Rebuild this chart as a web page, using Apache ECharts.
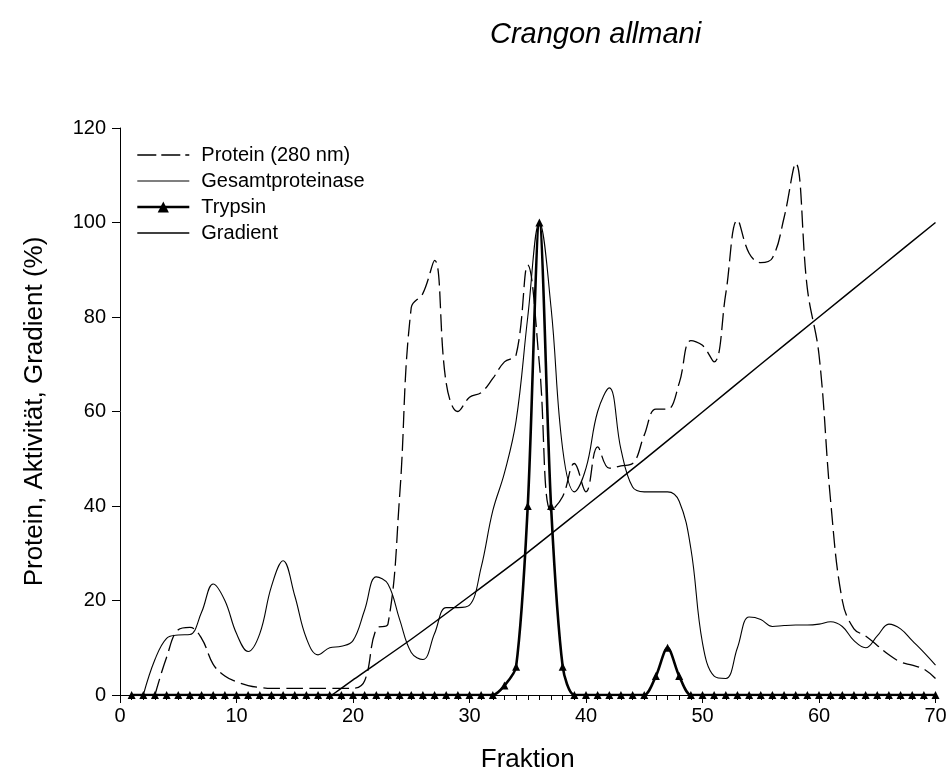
<!DOCTYPE html>
<html><head><meta charset="utf-8">
<script src="https://cdn.jsdelivr.net/npm/echarts@6/dist/echarts.min.js"></script>
<style>html,body{margin:0;padding:0;background:#fff}#c{width:950px;height:780px}</style>
</head><body><div id="c"></div>
<script>
// ---- data ----
const chartTitle = 'Crangon allmani';
const xAxisName = 'Fraktion';
const yAxisName = 'Protein, Aktivität, Gradient (%)';
const seriesNames = ['Protein (280 nm)', 'Gesamtproteinase', 'Trypsin', 'Gradient'];

const proteinX = [3,4,5,6,7,8,9,10,11,12,13,14,15,16,17,18,19,20,21,22,23,24,25,26,27,28,29,30,31,32,33,34,35,36,37,38,39,40,41,42,43,44,45,46,47,48,49,50,51,52,53,54,55,56,57,58,59,60,61,62,63,64,65,66,67,68,69,70];
const proteinY = [0,8,13.8,14.3,12,6.5,4,2.8,2,1.6,1.4,1.4,1.4,1.4,1.4,1.4,1.4,1.4,3,14,15,42,82,85,92,66,60,63,64,67,70.5,72,91,70,39,42,49,43,52.5,48,48.5,49,55,60.5,60.5,66,75,74,70.5,85,100.5,93.5,91.5,92.5,101,112.5,86,72,41,20,14,12.5,10.5,8.5,7,6.3,5.5,3.5];

const gesamtX = [2,3,4,5,6,7,8,9,10,11,12,13,14,15,16,17,18,19,20,21,22,23,24,25,26,27,28,29,30,31,32,33,34,35,36,37,38,39,40,41,42,43,44,45,46,47,48,49,50,51,52,53,54,55,56,57,58,59,60,61,62,63,64,65,66,67,68,69,70];
const gesamtY = [0,7.5,12,12.7,12.8,17.5,23.5,20,13,9.2,13,23,28.4,21,12,8.5,10,10.3,11.5,18,25,23.5,16,9,7.5,13,18.5,18.5,19,27,39,47,58,80,100,82,52,43,48,60,65,52,44,43,43,43,41,31,11,4,3.5,10,16.5,16,14.5,14.7,14.8,14.8,15,15.5,14.5,11.5,10,12.5,15,14,11.5,9,6.3];

const trypsinX = [1,2,3,4,5,6,7,8,9,10,11,12,13,14,15,16,17,18,19,20,21,22,23,24,25,26,27,28,29,30,31,32,33,34,35,36,37,38,39,40,41,42,43,44,45,46,47,48,49,50,51,52,53,54,55,56,57,58,59,60,61,62,63,64,65,66,67,68,69,70];
const trypsinY = [0,0,0,0,0,0,0,0,0,0,0,0,0,0,0,0,0,0,0,0,0,0,0,0,0,0,0,0,0,0,0,0,2,6,40,100,40,6,0,0,0,0,0,0,0,4,10,4,0,0,0,0,0,0,0,0,0,0,0,0,0,0,0,0,0,0,0,0,0,0];

const gradientX = [18.2,20,25,30,35,40,45,50,55,60,65,70];
const gradientY = [0,3.2,11.8,20.9,30.2,40,49.8,59.9,70,80,90,100];

const xMin = 0, xMax = 70, xStep = 10;
const yMin = 0, yMax = 120, yStep = 20;

const pairs = (xs, ys) => xs.map((x, i) => [x, ys[i]]);
const FONT = 'Liberation Sans, Arial, sans-serif';

const chart = echarts.init(document.getElementById('c'), null, {renderer: 'canvas'});
chart.setOption({
  animation: false,
  backgroundColor: '#ffffff',
  title: {
    text: chartTitle,
    left: 485, top: 15,
    textStyle: {fontFamily: FONT, fontStyle: 'italic', fontWeight: 'normal', fontSize: 29, color: '#000'}
  },
  grid: {left: 120, right: 14.5, top: 128, bottom: 85, containLabel: false},
  legend: {
    orient: 'vertical', left: 131, top: 140,
    itemWidth: 52, itemHeight: 14, itemGap: 6,
    textStyle: {fontFamily: FONT, fontSize: 20, color: '#000', padding: [0, 0, 0, 7]},
    data: [
      {name: seriesNames[0], itemStyle: {opacity: 0}, lineStyle: {width: 1.3, type: [19, 5]}},
      {name: seriesNames[1], itemStyle: {opacity: 0}, lineStyle: {width: 1.1}},
      {name: seriesNames[2], lineStyle: {width: 2.6}},
      {name: seriesNames[3], itemStyle: {opacity: 0}, lineStyle: {width: 1.5}}
    ]
  },
  xAxis: {
    type: 'value', min: xMin, max: xMax, interval: xStep,
    name: xAxisName, nameLocation: 'middle', nameGap: 52,
    nameTextStyle: {fontFamily: FONT, fontSize: 26, color: '#000'},
    axisLine: {show: true, onZero: false, lineStyle: {color: '#000', width: 1}},
    axisTick: {show: true, length: 8, lineStyle: {color: '#000', width: 1}},
    minorTick: {show: true, splitNumber: 10, length: 5, lineStyle: {color: '#000', width: 1}},
    axisLabel: {fontFamily: FONT, fontSize: 20, color: '#000', margin: 11},
    splitLine: {show: false}
  },
  yAxis: {
    type: 'value', min: yMin, max: yMax, interval: yStep,
    name: yAxisName, nameLocation: 'middle', nameGap: 72,
    nameTextStyle: {fontFamily: FONT, fontSize: 26, color: '#000'},
    axisLine: {show: true, lineStyle: {color: '#000', width: 1}},
    axisTick: {show: true, length: 8, lineStyle: {color: '#000', width: 1}},
    axisLabel: {fontFamily: FONT, fontSize: 20, color: '#000', margin: 14},
    splitLine: {show: false}
  },
  series: [
    {
      name: seriesNames[0], type: 'line', data: pairs(proteinX, proteinY),
      smooth: 0.4, symbol: 'none', z: 2,
      lineStyle: {color: '#000', width: 1.3, type: [17, 6]},
      itemStyle: {color: '#000'}
    },
    {
      name: seriesNames[1], type: 'line', data: pairs(gesamtX, gesamtY),
      smooth: 0.4, symbol: 'none', z: 2,
      lineStyle: {color: '#000', width: 1.1},
      itemStyle: {color: '#000'}
    },
    {
      name: seriesNames[2], type: 'line', data: pairs(trypsinX, trypsinY),
      smooth: 0.3, symbol: 'triangle', symbolSize: 8, showSymbol: true, z: 4,
      lineStyle: {color: '#000', width: 2.6},
      itemStyle: {color: '#000', borderWidth: 0}
    },
    {
      name: seriesNames[3], type: 'line', data: pairs(gradientX, gradientY),
      smooth: 0.2, symbol: 'none', z: 3,
      lineStyle: {color: '#000', width: 1.5},
      itemStyle: {color: '#000'}
    }
  ]
});
</script>
</body></html>
